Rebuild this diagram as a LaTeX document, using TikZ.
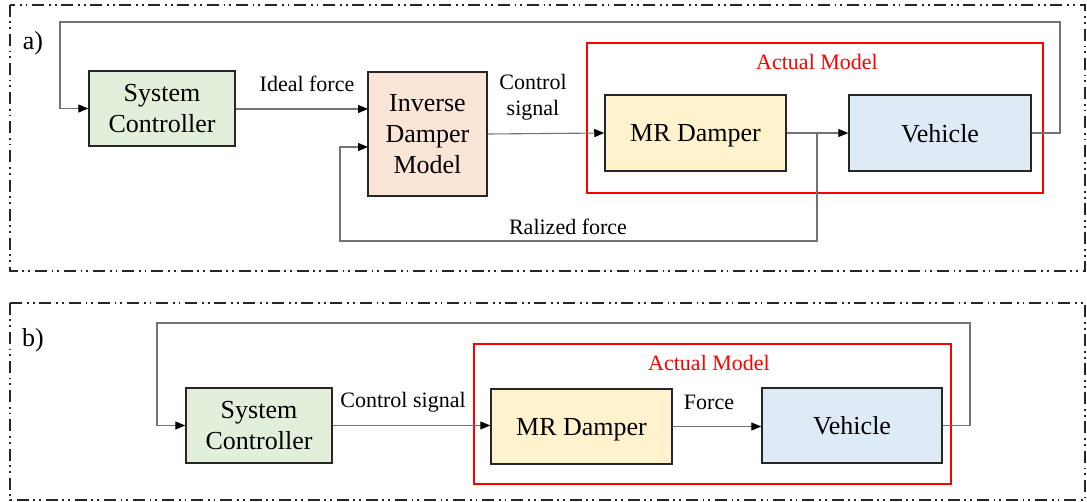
\documentclass[tikz,border=0pt]{standalone}
\usepackage{fontspec}
\setmainfont{Liberation Serif}
\usetikzlibrary{arrows.meta}
\definecolor{scgreen}{HTML}{E2EFDA}
\definecolor{idmpeach}{HTML}{FBE5D6}
\definecolor{mryellow}{HTML}{FFF2CC}
\definecolor{vehblue}{HTML}{DEEBF7}
\tikzset{
  blk/.style={draw=black!85, line width=1.5pt, inner sep=0pt, align=center,
    font=\fontsize{26}{31}\selectfont},
  lbl/.style={inner sep=0pt, align=center, font=\fontsize{22}{26}\selectfont},
  panel/.style={draw=black!85, line width=1.4pt,
    dash pattern=on 12pt off 4.5pt on 1.8pt off 4pt on 1.8pt off 5pt},
  redbox/.style={draw=red, line width=1.4pt},
  conn/.style={draw=black!55, line width=1.1pt},
  arr/.style={conn, -{Triangle[length=10pt,width=8pt,color=black]}},
}
\begin{document}
\begin{tikzpicture}[x=1pt,y=-1pt]
\useasboundingbox (0,0) rectangle (1087,502);
% panels
\draw[panel] (10,5) rectangle (1085,271);
\draw[panel] (10,303) rectangle (1085,500);
\node[font=\fontsize{26}{31}\selectfont, inner sep=0pt] (la) at (33,43) {a)};
\node[font=\fontsize{26}{31}\selectfont, inner sep=0pt] (lb) at (33,340) {b)};

% ---------- panel a ----------
\draw[redbox] (587,43) rectangle (1043,193);
\node[lbl, text=red] (ama) at (817,62) {Actual Model};
\node[blk, fill=scgreen, minimum width=146pt, minimum height=75pt] (sca) at (162,108.5) {System\\Controller};
\node[blk, fill=idmpeach, minimum width=119pt, minimum height=124pt] (idm) at (427.5,134) {Inverse\\Damper\\Model};
\node[blk, fill=mryellow, minimum width=181pt, minimum height=76pt, text depth=0pt] (mra) at (695.5,133) {MR Damper};
\node[blk, fill=vehblue, minimum width=182pt, minimum height=76pt, text depth=0pt] (veha) at (940,133) {Vehicle};

\coordinate (idmin1) at (368,109);
\coordinate (idmin2) at (368,147);
\coordinate (br) at (817,133);
\coordinate (rb) at (817,241);
\coordinate (rl) at (340,241);
\coordinate (fa1) at (1060,22);
\coordinate (fa2) at (60,22);

\draw[arr] (sca.east |- idmin1) -- (idmin1);
\draw[arr] (idm.east) -- (mra.west);
\draw[arr] (mra.east) -- (veha.west);
\draw[arr] (br) -- (rb) -- (rl) |- (idmin2);
\draw[arr] (veha.east) -| (fa1) -- (fa2) |- (sca.west);

\node[lbl] (ifl) at (307,84) {Ideal force};
\node[lbl] (csl) at (533,97) {Control\\signal};
\node[lbl] (rfl) at (568,227) {Ralized force};

% ---------- panel b ----------
\draw[redbox] (474,344) rectangle (951,484);
\node[lbl, text=red] (amb) at (709,363) {Actual Model};
\node[blk, fill=scgreen, minimum width=146pt, minimum height=75pt] (scb) at (259,425.5) {System\\Controller};
\node[blk, fill=mryellow, minimum width=181pt, minimum height=75pt, text depth=0pt] (mrb) at (581.5,426.5) {MR Damper};
\node[blk, fill=vehblue, minimum width=180pt, minimum height=75pt, text depth=0pt] (vehb) at (852,425.5) {Vehicle};

\coordinate (fb1) at (970,323);
\coordinate (fb2) at (157,323);

\draw[arr] (scb.east) -- (scb.east -| mrb.west);
\draw[arr] (mrb.east) -- (mrb.east -| vehb.west);
\draw[arr] (vehb.east) -| (fb1) -- (fb2) |- (scb.west);

\node[lbl] (csb) at (403,402) {Control signal};
\node[lbl] (fl) at (709,402) {Force};
\end{tikzpicture}
\end{document}
